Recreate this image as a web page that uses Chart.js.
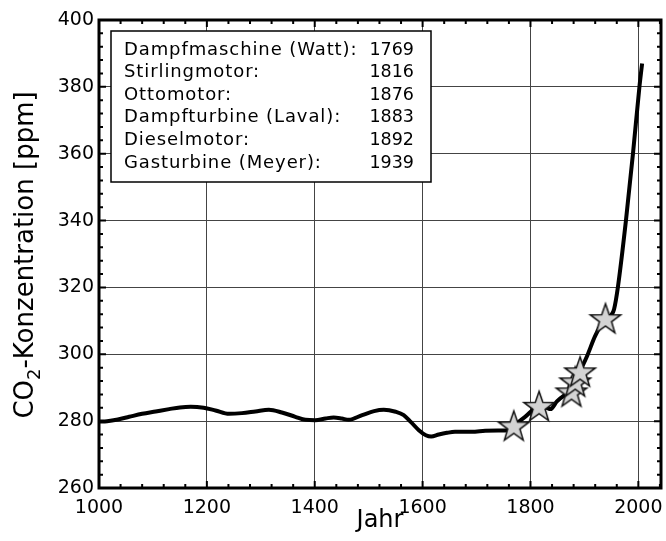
<!DOCTYPE html>
<html>
<head>
<meta charset="utf-8">
<title>CO2-Konzentration</title>
<script src="https://cdn.jsdelivr.net/npm/chart.js@4.4.0/dist/chart.umd.min.js"></script>
<style>
    html, body { margin: 0; padding: 0; background: #fff; }
    canvas { display: block; }
</style>
</head>
<body>
<canvas id="co2Chart" width="666" height="541"></canvas>
<script>
// ==========================================
// DATA
// ==========================================

const years = [
    1000, 1015, 1035, 1056, 1080, 1105, 1130, 1150, 1170, 1194,
    1216, 1241, 1265, 1290, 1315, 1339, 1364, 1383, 1401, 1420,
    1435, 1450, 1463, 1488, 1510, 1528, 1550, 1565, 1578, 1593,
    1606, 1616, 1630, 1645, 1660, 1691, 1716, 1740, 1760, 1769,
    1790, 1816, 1830, 1837, 1849, 1862, 1876, 1883, 1892, 1905,
    1920, 1939, 1950, 1955, 1962, 1977, 1990, 2002, 2007
];

const co2Values = [
    279.9, 280.0, 280.5, 281.3, 282.2, 282.9, 283.6, 284.1, 284.3, 284.0,
    283.2, 282.2, 282.4, 282.9, 283.4, 282.6, 281.3, 280.4, 280.3, 280.8,
    281.1, 280.8, 280.4, 281.8, 283.0, 283.4, 282.8, 281.8, 279.8, 277.3,
    275.8, 275.4, 276.0, 276.5, 276.8, 276.8, 277.1, 277.2, 277.3, 278.6,
    281.3, 284.4, 284.0, 283.6, 285.9, 287.6, 289.0, 292.0, 295.0, 299.5,
    305.5, 310.7, 311.8, 313.5, 320.0, 340.0, 360.0, 380.0, 387.0
];

const engineNames = [
    "Dampfmaschine (Watt):",
    "Stirlingmotor:",
    "Ottomotor:",
    "Dampfturbine (Laval):",
    "Dieselmotor:",
    "Gasturbine (Meyer):"
];

const engineYears = [1769, 1816, 1876, 1883, 1892, 1939];

const enginePpm = [278.7, 284.6, 288.9, 291.9, 294.9, 310.8];

const xTickValues = [1000, 1200, 1400, 1600, 1800, 2000];

const yTickValues = [260, 280, 300, 320, 340, 360, 380, 400];

const FONT = "'DejaVu Sans', Verdana, sans-serif";

// ==========================================
// STAR MARKER
// ==========================================

function makeStar(outer, inner) {

    const size = Math.ceil(outer * 2 + 4);
    const c = document.createElement("canvas");
    c.width = size;
    c.height = size;

    const g = c.getContext("2d");
    const cx = size / 2;
    const cy = size / 2 + outer * 0.1;

    g.beginPath();
    for (let i = 0; i < 10; i++) {
        const r = i % 2 === 0 ? outer : inner;
        const a = -Math.PI / 2 + i * Math.PI / 5;
        const px = cx + r * Math.cos(a);
        const py = cy + r * Math.sin(a);
        if (i === 0) g.moveTo(px, py); else g.lineTo(px, py);
    }
    g.closePath();
    g.fillStyle = "#d3d3d3";
    g.fill();
    g.lineWidth = 1.5;
    g.strokeStyle = "#111";
    g.stroke();

    return c;
}

const starImage = makeStar(16, 6.4);

// ==========================================
// FRAME, TICKS, Y TITLE, TEXT BOX
// ==========================================

const decorPlugin = {

    id: "decor",

    afterDraw(chart) {

        const { ctx, chartArea: a, scales: { x, y } } = chart;

        ctx.save();
        ctx.strokeStyle = "#000";
        ctx.lineWidth = 2;

        // inward ticks on all four sides
        for (let v = 1000; v <= x.max; v += 40) {
            const px = x.getPixelForValue(v);
            const len = v % 200 === 0 ? 7 : 4;
            ctx.beginPath();
            ctx.moveTo(px, a.top); ctx.lineTo(px, a.top + len);
            ctx.moveTo(px, a.bottom); ctx.lineTo(px, a.bottom - len);
            ctx.stroke();
        }

        for (let v = 260; v <= 400; v += 4) {
            const py = y.getPixelForValue(v);
            const len = v % 20 === 0 ? 7 : 4;
            ctx.beginPath();
            ctx.moveTo(a.left, py); ctx.lineTo(a.left + len, py);
            ctx.moveTo(a.right, py); ctx.lineTo(a.right - len, py);
            ctx.stroke();
        }

        ctx.lineWidth = 3;
        ctx.strokeRect(a.left, a.top, a.right - a.left, a.bottom - a.top);

        // y title with subscript
        ctx.fillStyle = "#000";
        const big = "26px " + FONT;
        const small = "18px " + FONT;
        ctx.font = big;
        const w1 = ctx.measureText("CO").width;
        const w3 = ctx.measureText("-Konzentration [ppm]").width;
        ctx.font = small;
        const w2 = ctx.measureText("2").width;
        const total = w1 + w2 + w3;

        ctx.translate(33, (a.top + a.bottom) / 2 + 1);
        ctx.rotate(-Math.PI / 2);
        ctx.textAlign = "left";
        ctx.textBaseline = "alphabetic";
        let tx = -total / 2;
        ctx.font = big;
        ctx.fillText("CO", tx, 0);
        tx += w1;
        ctx.font = small;
        ctx.fillText("2", tx, 7);
        tx += w2;
        ctx.font = big;
        ctx.fillText("-Konzentration [ppm]", tx, 0);
        ctx.restore();

        // text box with engine years
        ctx.save();
        ctx.fillStyle = "#fff";
        ctx.fillRect(111, 31, 320, 151);
        ctx.strokeStyle = "#000";
        ctx.lineWidth = 1.5;
        ctx.strokeRect(111, 31, 320, 151);

        ctx.fillStyle = "#000";
        ctx.textBaseline = "middle";
        const hasSpacing = "letterSpacing" in ctx;
        engineNames.forEach(function (name, i) {
            const ly = 50 + i * 22.6;
            ctx.textAlign = "left";
            if (hasSpacing) {
                ctx.font = "18px " + FONT;
                ctx.letterSpacing = "0.9px";
            } else {
                ctx.font = "19.5px " + FONT;
            }
            ctx.fillText(name, 124, ly);
            if (hasSpacing) ctx.letterSpacing = "0px";
            ctx.font = "17.5px " + FONT;
            ctx.textAlign = "right";
            ctx.fillText(String(engineYears[i]), 414, ly);
        });
        ctx.restore();
    }
};

// ==========================================
// CHART
// ==========================================

new Chart(document.getElementById("co2Chart"), {

    type: "scatter",

    data: {

        datasets: [

            {
                label: "Erfindungen",
                data: engineYears.map((yr, i) => ({ x: yr, y: enginePpm[i] })),
                pointStyle: starImage,
                showLine: false,
                order: 0,
            },

            {
                label: "CO2",
                data: years.map((yr, i) => ({ x: yr, y: co2Values[i] })),
                showLine: true,
                borderColor: "#000",
                borderWidth: 4,
                borderCapStyle: "butt",
                borderJoinStyle: "round",
                cubicInterpolationMode: "monotone",
                pointRadius: 0,
                fill: false,
                order: 1,
            }

        ]

    },

    options: {

        responsive: false,
        animation: false,
        devicePixelRatio: 1,

        layout: {
            padding: { top: 20, right: 4, left: 0, bottom: 0 }
        },

        plugins: {
            legend: { display: false },
            tooltip: { enabled: false }
        },

        scales: {

            x: {
                type: "linear",
                min: 1000,
                max: 2042,
                afterBuildTicks: function (scale) {
                    scale.ticks = xTickValues.map(v => ({ value: v }));
                },
                afterFit: function (scale) {
                    scale.height = 53;
                    scale.paddingLeft = 0;
                    scale.paddingRight = 0;
                },
                title: {
                    display: true,
                    text: "Jahr",
                    color: "#000",
                    font: { family: FONT, size: 24, lineHeight: 1.2 },
                    padding: { top: 0, bottom: 5.6 }
                },
                ticks: {
                    color: "#000",
                    font: { family: FONT, size: 19 },
                    padding: 9,
                    maxRotation: 0,
                    autoSkip: false,
                    callback: function (value) {
                        return String(value);
                    }
                },
                grid: {
                    color: "#444",
                    lineWidth: 1,
                    drawTicks: false,
                },
                border: { display: false }
            },

            y: {
                min: 260,
                max: 400,
                afterBuildTicks: function (scale) {
                    scale.ticks = yTickValues.map(v => ({ value: v }));
                },
                afterFit: function (scale) {
                    scale.width = 99;
                },
                ticks: {
                    color: "#000",
                    font: { family: FONT, size: 19 },
                    padding: 5,
                    autoSkip: false,
                    callback: function (value) {
                        return String(value);
                    }
                },
                grid: {
                    color: "#444",
                    lineWidth: 1,
                    drawTicks: false,
                },
                border: { display: false }
            }

        }

    },

    plugins: [decorPlugin]

});
</script>
</body>
</html>
